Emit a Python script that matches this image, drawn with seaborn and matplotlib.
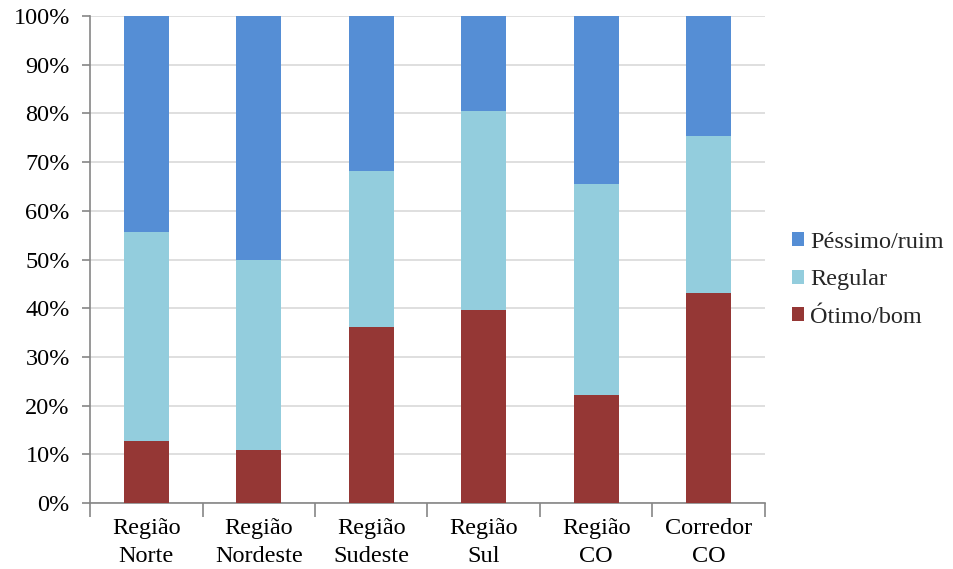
import matplotlib
matplotlib.use("Agg")
import matplotlib.pyplot as plt
import seaborn as sns
import pandas as pd
import numpy as np
from matplotlib.patches import Patch
from matplotlib.ticker import FixedLocator, PercentFormatter

categories = ["Região\nNorte", "Região\nNordeste", "Região\nSudeste", "Região\nSul", "Região\nCO", "Corredor\nCO"]
otimo_bom = [12.8, 10.8, 36.2, 39.6, 22.1, 43.1]
regular = [42.9, 39.2, 31.9, 40.8, 43.4, 32.3]
pessimo_ruim = [44.3, 50.0, 31.9, 19.6, 34.5, 24.6]
series_names = ["Péssimo/ruim", "Regular", "Ótimo/bom"]
colors = {"Péssimo/ruim": "#558ED5", "Regular": "#93CDDD", "Ótimo/bom": "#953735"}

sns.set_theme(style="white")
plt.rcParams['font.family'] = ['Liberation Serif', 'DejaVu Serif']

df = pd.DataFrame({"cat": categories, "o": otimo_bom, "r": regular, "p": pessimo_ruim})
df["top3"] = df["o"] + df["r"] + df["p"]
df["top2"] = df["o"] + df["r"]
df["top1"] = df["o"]

fig = plt.figure(figsize=(9.54, 5.69), dpi=100)
ax = fig.add_axes([90 / 954, 1 - 503 / 569, (765 - 90) / 954, (503 - 16) / 569])

for col, name in [("top3", "Péssimo/ruim"), ("top2", "Regular"), ("top1", "Ótimo/bom")]:
    sns.barplot(data=df, x="cat", y=col, color=colors[name], width=0.4,
                saturation=1, ax=ax, zorder=3, linewidth=0, edgecolor="none")

ax.set_ylim(0, 100)
ax.set_xlim(-0.5, len(categories) - 0.5)
ax.set_yticks(np.arange(0, 101, 10))
ax.yaxis.set_major_formatter(PercentFormatter(decimals=0))
ax.set_xlabel("")
ax.set_ylabel("")
ax.grid(axis="y", color="#D9D9D9", linewidth=1.2, zorder=0)
ax.set_axisbelow(True)
for s in ["top", "right"]:
    ax.spines[s].set_visible(False)
for s in ["left", "bottom"]:
    ax.spines[s].set_color("#868686")
    ax.spines[s].set_linewidth(1.2)

fs = 17.5
ax.tick_params(axis="y", which="major", direction="out", length=6, color="#868686",
               width=1.2, labelsize=fs, labelcolor="black", left=True, pad=8.5)
ax.tick_params(axis="x", which="major", length=0, labelsize=fs, labelcolor="black", pad=11)
ax.xaxis.set_minor_locator(FixedLocator(np.arange(-0.5, len(categories), 1.0)))
ax.tick_params(axis="x", which="minor", direction="out", length=10, color="#868686",
               width=1.2, bottom=True)
for lab in ax.get_xticklabels():
    lab.set_linespacing(1.45)

handles = [Patch(facecolor=colors[n], edgecolor="none", label=n) for n in series_names]
fig.legend(handles=handles, loc="center left", bbox_to_anchor=(792 / 954, 1 - 280 / 569),
           frameon=False, fontsize=fs, handlelength=0.5, handleheight=0.5,
           handletextpad=0.25, labelspacing=0.68, borderaxespad=0, borderpad=0)

fig.savefig("out.png", dpi=100)
